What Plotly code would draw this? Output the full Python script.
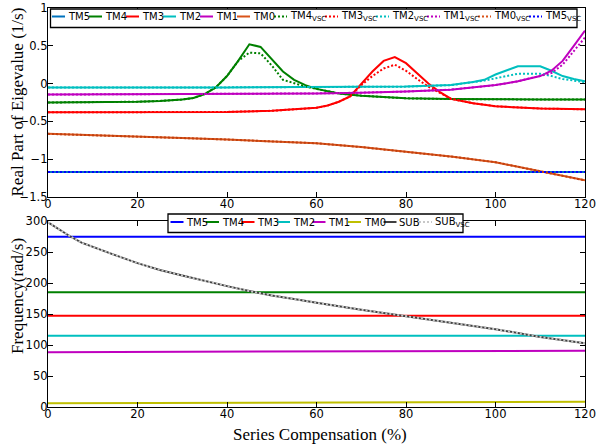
import plotly.graph_objects as go

# ---------------- data: real part of eigenvalues (1/s) ----------------
tm5_x = [0, 60, 120]
tm5_y = [-1.17, -1.17, -1.17]

tm4_x = [0, 10, 20, 25, 30, 32.5, 35, 37.5, 40, 42.5, 45, 47.5, 50, 52.5, 55, 57.5,
         60, 62.5, 65, 70, 75, 80, 90, 100, 110, 120]
tm4_y = [-0.25, -0.248, -0.24, -0.23, -0.21, -0.19, -0.14, -0.05, 0.10, 0.30, 0.52, 0.485,
         0.32, 0.16, 0.05, -0.02, -0.07, -0.10, -0.13, -0.16, -0.18, -0.195, -0.205, -0.21,
         -0.21, -0.21]
tm4v_y = [-0.25, -0.248, -0.24, -0.23, -0.21, -0.19, -0.14, -0.05, 0.10, 0.30, 0.41, 0.40,
          0.24, 0.05, 0.0, -0.04, -0.07, -0.10, -0.13, -0.16, -0.18, -0.195, -0.205, -0.21,
          -0.21, -0.21]

tm3_x = [0, 20, 40, 50, 55, 60, 62.5, 65, 67.5, 70, 72.5, 75, 77.5, 80, 82.5, 85, 87.5,
         90, 95, 100, 110, 120]
tm3_y = [-0.38, -0.38, -0.375, -0.36, -0.345, -0.32, -0.29, -0.24, -0.17, -0.01, 0.16,
         0.30, 0.35, 0.27, 0.13, 0.0, -0.11, -0.20, -0.26, -0.30, -0.33, -0.34]
tm3v_y = [-0.38, -0.38, -0.375, -0.36, -0.345, -0.32, -0.29, -0.24, -0.17, -0.02, 0.10,
          0.20, 0.25, 0.17, 0.06, -0.04, -0.12, -0.20, -0.26, -0.30, -0.33, -0.34]

tm2_x = [0, 40, 80, 90, 95, 97.5, 100, 102.5, 105, 107.5, 110, 112.5, 115, 117.5, 120]
tm2_y = [-0.05, -0.05, -0.04, -0.02, 0.02, 0.05, 0.12, 0.18, 0.23, 0.23, 0.23, 0.17,
         0.10, 0.06, 0.03]
tm2v_y = [-0.05, -0.05, -0.04, -0.02, 0.02, 0.04, 0.07, 0.10, 0.13, 0.13, 0.13, 0.10,
          0.06, 0.04, 0.02]

tm1_x = [0, 40, 60, 70, 80, 90, 95, 100, 105, 110, 112.5, 115, 117.5, 120]
tm1_y = [-0.145, -0.14, -0.13, -0.12, -0.105, -0.08, -0.05, -0.02, 0.03, 0.10, 0.17,
         0.30, 0.50, 0.70]
tm1v_y = [-0.145, -0.14, -0.13, -0.12, -0.105, -0.08, -0.05, -0.02, 0.03, 0.10, 0.14,
          0.25, 0.43, 0.61]

tm0_x = [0, 10, 20, 30, 40, 50, 60, 70, 80, 90, 100, 110, 120]
tm0_y = [-0.665, -0.68, -0.70, -0.72, -0.74, -0.765, -0.79, -0.84, -0.90, -0.965, -1.04,
         -1.155, -1.28]

# ---------------- data: frequencies (rad/s) ----------------
flat_x = [0, 60, 120]
f_tm5 = [274.5, 274.5, 274.5]
f_tm4 = [185, 185, 185]
f_tm3 = [147, 147, 147]
f_tm2 = [115, 115, 115]
f_tm1 = [88.5, 89.3, 90.8]
f_tm0 = [6, 7, 8.5]

sub_x = [0, 2.5, 5, 7.5, 10, 13, 15, 20, 25, 30, 35, 40, 45, 50, 56, 60, 70, 80, 90,
         100, 107.5, 110, 120]
sub_y = [298, 286, 275, 265, 258, 250, 245, 232, 221, 212, 203, 195, 187, 180, 173, 168,
         157, 147, 136, 125.5, 116, 113, 103]

x_ticks = [0, 20, 40, 60, 80, 100, 120]
re_ticks = [-1.5, -1, -0.5, 0, 0.5, 1]
re_labels = ["\u22121.5", "\u22121", "\u22120.5", "0", "0.5", "1"]
f_ticks = [0, 50, 100, 150, 200, 250, 300]

# ---------------- styles ----------------
C_TM5_TOP = "#0072bd"
C_BLUE = "#0000ff"
C_GREEN = "#008000"
C_RED = "#ff0000"
C_CYAN = "#00bfbf"
C_MAG = "#bf00bf"
C_ORANGE = "#d95319"
C_OLIVE = "#bfbf00"
C_SUB = "#404040"
C_SUBV = "#c8c8c8"
DOT = "2px,2px"
LW = 2

fig = go.Figure()


def add(x, y, color, dash="solid", axis=1, width=LW):
    fig.add_trace(go.Scatter(
        x=x, y=y, mode="lines", showlegend=False, hoverinfo="skip",
        line=dict(color=color, width=width, dash=dash),
        xaxis="x" if axis == 1 else "x2", yaxis="y" if axis == 1 else "y2"))


# upper panel: solid then VSC (dotted)
add(tm5_x, tm5_y, C_TM5_TOP)
add(tm4_x, tm4_y, C_GREEN)
add(tm3_x, tm3_y, C_RED)
add(tm2_x, tm2_y, C_CYAN)
add(tm1_x, tm1_y, C_MAG)
add(tm0_x, tm0_y, C_ORANGE)
add(tm4_x, tm4v_y, C_GREEN, DOT)
add(tm3_x, tm3v_y, C_RED, DOT)
add(tm2_x, tm2v_y, C_CYAN, DOT)
add(tm1_x, tm1v_y, C_MAG, DOT)
add(tm0_x, tm0_y, "#c04010", DOT)
add(tm5_x, tm5_y, C_BLUE, DOT)

# lower panel
add(flat_x, f_tm5, C_BLUE, axis=2)
add(flat_x, f_tm4, C_GREEN, axis=2)
add(flat_x, f_tm3, C_RED, axis=2)
add(flat_x, f_tm2, C_CYAN, axis=2)
add(flat_x, f_tm1, C_MAG, axis=2)
add(flat_x, f_tm0, C_OLIVE, axis=2)
add(sub_x, sub_y, C_SUB, axis=2)
add(sub_x, sub_y, C_SUBV, DOT, axis=2)

# ---------------- layout ----------------
ML, MR, MT, MB = 48, 11, 8, 41
W, H = 596, 448
PW = W - ML - MR
PH = H - MT - MB


def px(xp):
    return (xp - ML) / PW


def py(yp):
    return (H - MB - yp) / PH


TICKFONT = dict(family="DejaVu Sans", size=11.5, color="black")
axis_common = dict(showline=True, linecolor="black", linewidth=1.3, mirror="ticks",
                   ticks="inside", ticklen=5, tickcolor="black", tickwidth=1.3,
                   showgrid=False, zeroline=False, tickfont=TICKFONT, automargin=False)
xstyle = dict(axis_common, ticklabelstandoff=-4)
ystyle = dict(axis_common, ticklabelstandoff=-3)

fig.update_layout(
    width=W, height=H,
    margin=dict(l=ML, r=MR, t=MT, b=MB, autoexpand=False),
    paper_bgcolor="white", plot_bgcolor="white",
    xaxis=dict(domain=[0, 1], anchor="y", range=[0, 120], tickvals=x_ticks, **xstyle),
    yaxis=dict(domain=[py(197), 1], anchor="x", range=[-1.5, 1], tickvals=re_ticks,
               ticktext=re_labels, **ystyle),
    xaxis2=dict(domain=[0, 1], anchor="y2", range=[0, 120], tickvals=x_ticks, **xstyle),
    yaxis2=dict(domain=[0, py(221)], anchor="x2", range=[0, 300], tickvals=f_ticks,
                **ystyle),
)

shapes = []
annotations = []
LEGFONT = dict(family="DejaVu Sans", size=10, color="black")


def legend_box(x0, x1, y0, y1):
    shapes.append(dict(type="rect", xref="paper", yref="paper", layer="above",
                       x0=px(x0), x1=px(x1), y0=py(y1), y1=py(y0),
                       fillcolor="white", line=dict(color="black", width=1.3)))


def legend_item(x, yc, color, dash, label):
    shapes.append(dict(type="line", xref="paper", yref="paper", layer="above",
                       x0=px(x), x1=px(x + 13), y0=py(yc), y1=py(yc),
                       line=dict(color=color, width=LW, dash=dash)))
    annotations.append(dict(xref="paper", yref="paper", x=px(x + 13.5), y=py(yc),
                            xanchor="left", yanchor="middle", showarrow=False,
                            text=label, font=LEGFONT))


# upper legend
top_entries = [("TM5", C_TM5_TOP, "solid"), ("TM4", C_GREEN, "solid"),
               ("TM3", C_RED, "solid"), ("TM2", C_CYAN, "solid"),
               ("TM1", C_MAG, "solid"), ("TM0", C_ORANGE, "solid"),
               ("TM4<sub>VSC</sub>", C_GREEN, DOT), ("TM3<sub>VSC</sub>", C_RED, DOT),
               ("TM2<sub>VSC</sub>", C_CYAN, DOT), ("TM1<sub>VSC</sub>", C_MAG, DOT),
               ("TM0<sub>VSC</sub>", C_ORANGE, DOT), ("TM5<sub>VSC</sub>", C_BLUE, DOT)]
legend_box(50.5, 577, 9, 27.5)
xpos = 52
for label, color, dash in top_entries:
    legend_item(xpos, 16.5, color, dash, label)
    xpos += 51 if "VSC" in label else 37

# lower legend
bot_entries = [("TM5", C_BLUE, "solid"), ("TM4", C_GREEN, "solid"),
               ("TM3", C_RED, "solid"), ("TM2", C_CYAN, "solid"),
               ("TM1", C_MAG, "solid"), ("TM0", C_OLIVE, "solid"),
               ("SUB", C_SUB, "solid"), ("SUB<sub>VSC</sub>", C_SUBV, DOT)]
legend_box(168, 463, 214, 232.5)
xpos = 170.5
for label, color, dash in bot_entries:
    legend_item(xpos, 222, color, dash, label)
    xpos += 35.5

# axis titles
TITLEFONT = dict(family="Liberation Serif", size=17, color="black")
annotations.append(dict(xref="paper", yref="paper", x=px(17), y=py(102.5),
                        text="Real Part of Eigevalue (1/s)", textangle=-90, showarrow=False,
                        xanchor="center", yanchor="middle", font=TITLEFONT))
annotations.append(dict(xref="paper", yref="paper", x=px(17), y=py(296),
                        text="Frequency(rad/s)", textangle=-90, showarrow=False,
                        xanchor="center", yanchor="middle", font=TITLEFONT))
annotations.append(dict(xref="paper", yref="paper", x=px(320), y=py(434),
                        text="Series Compensation (%)", showarrow=False,
                        xanchor="center", yanchor="middle", font=TITLEFONT))

fig.update_layout(shapes=shapes, annotations=annotations)
fig.write_html("out.html")
